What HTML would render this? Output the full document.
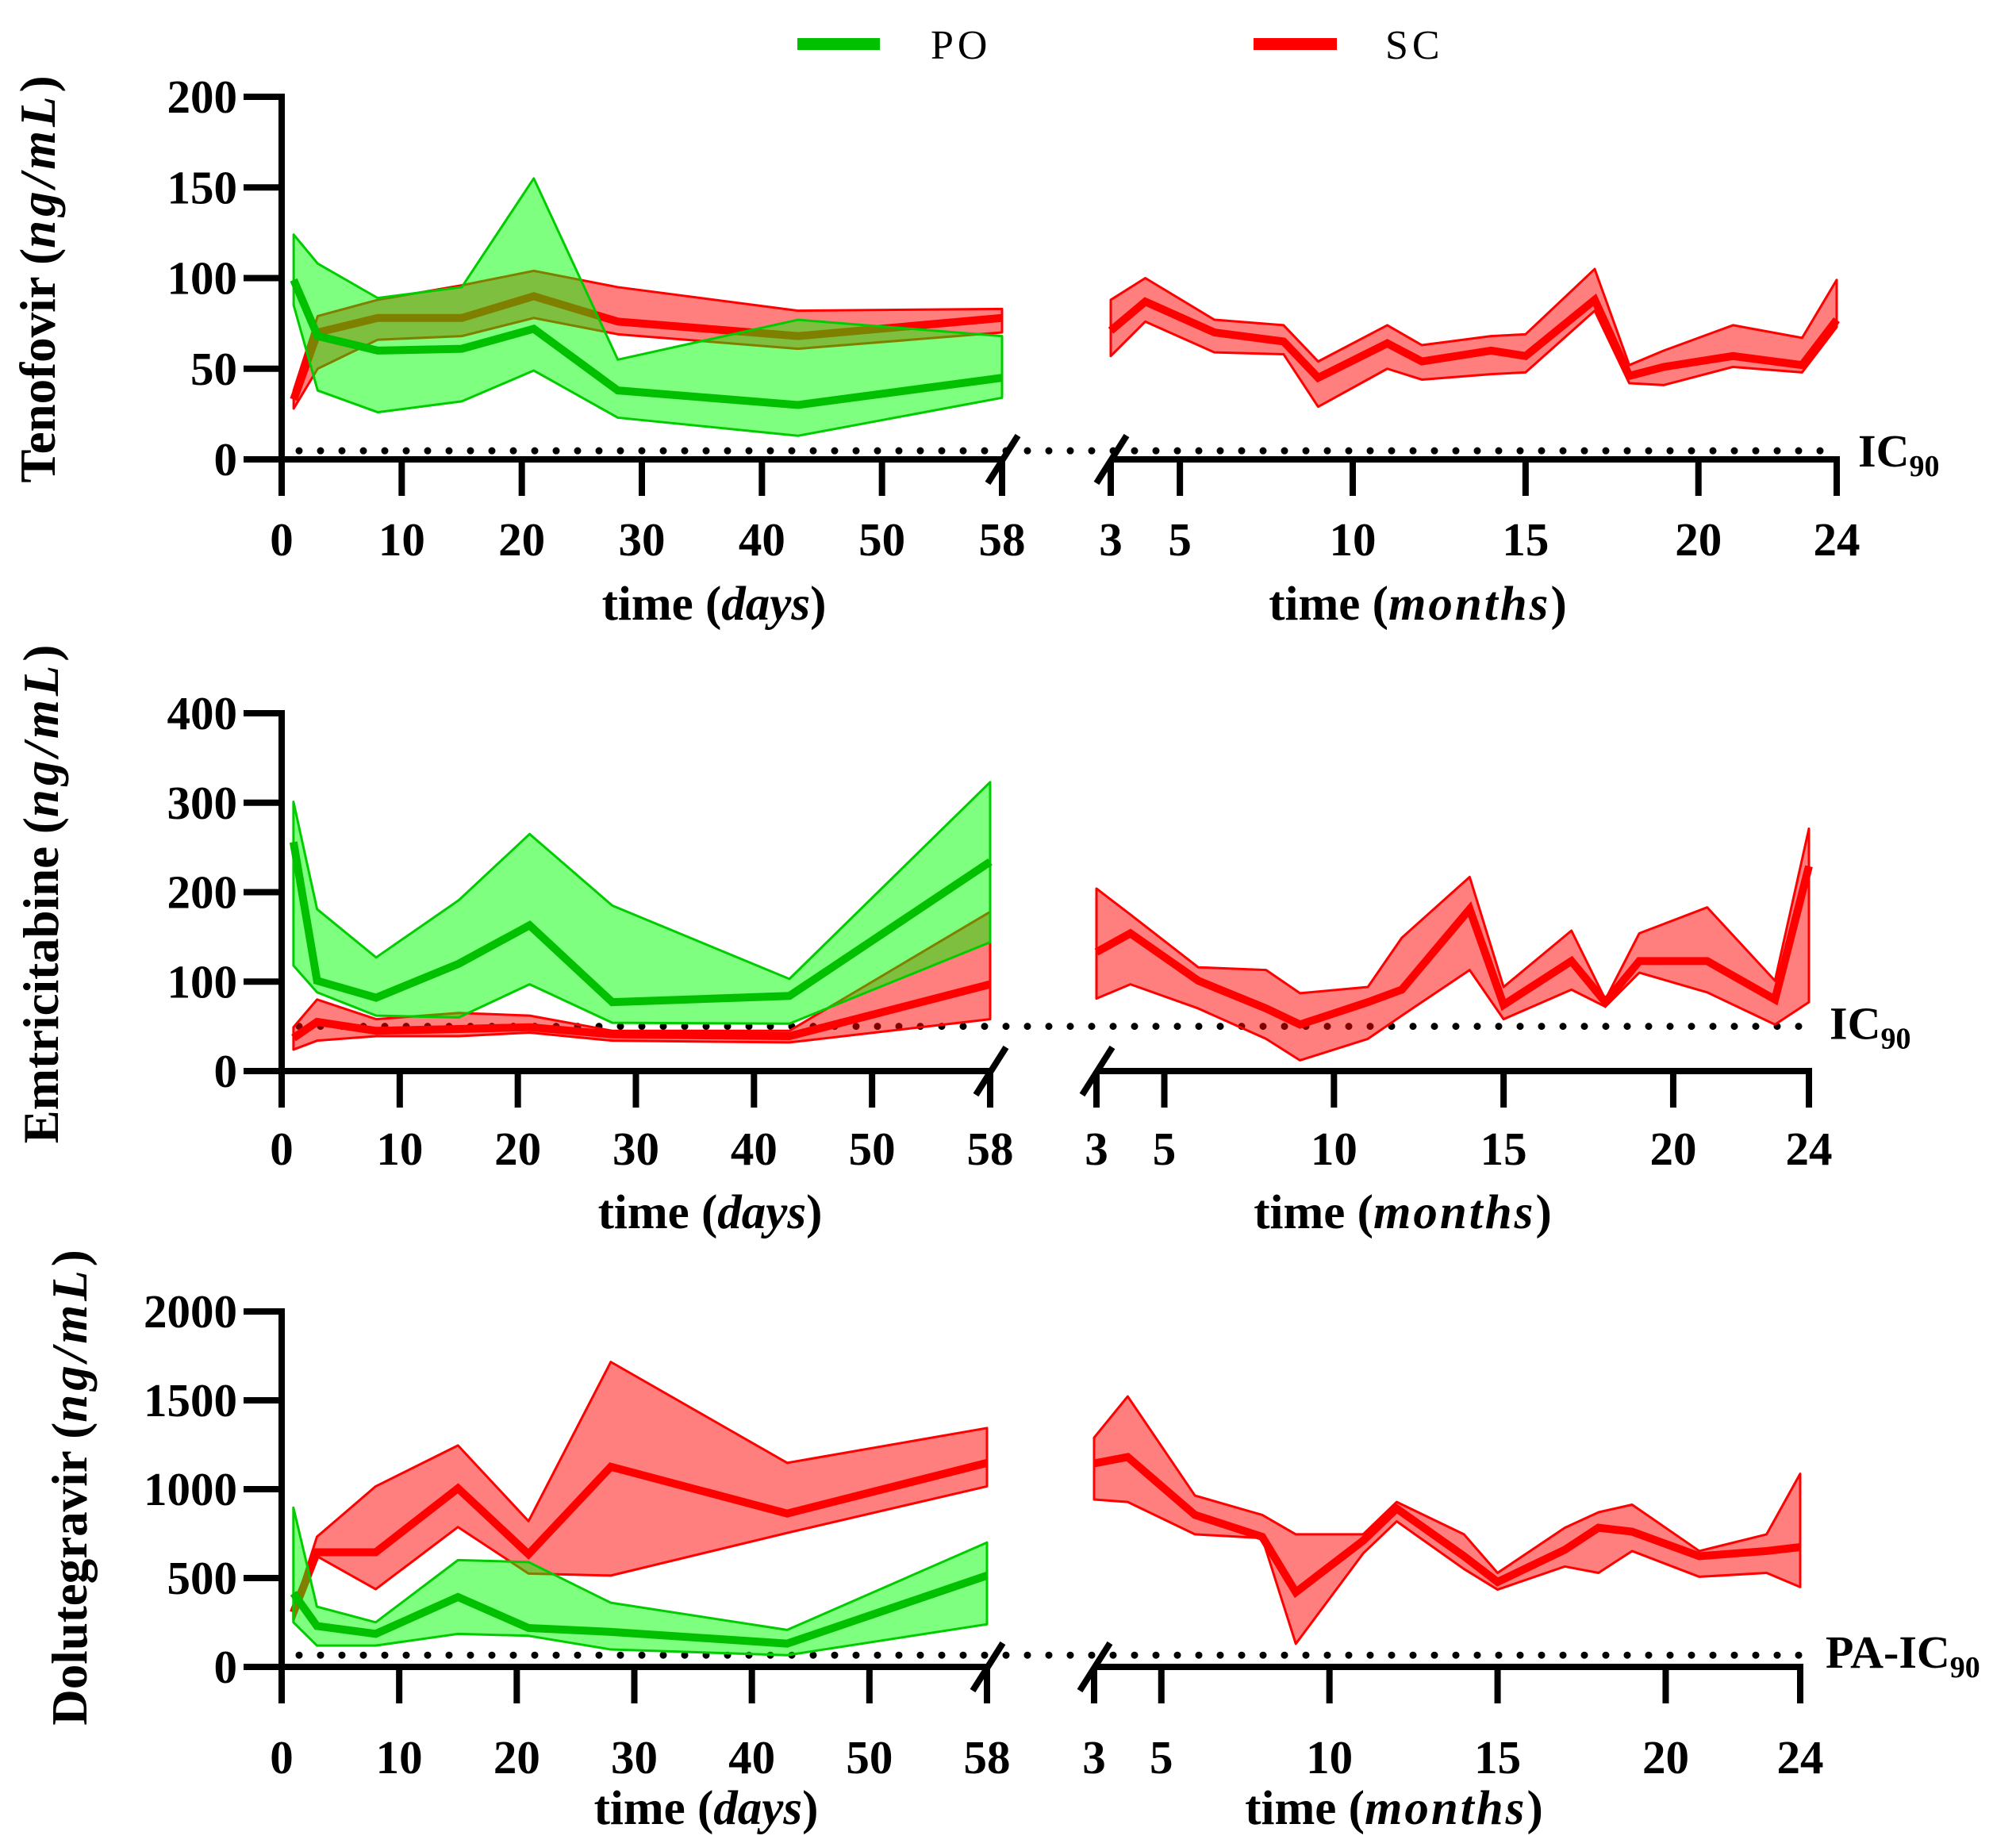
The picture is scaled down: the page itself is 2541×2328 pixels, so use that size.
<!DOCTYPE html>
<html><head><meta charset="utf-8"><style>
html,body{margin:0;padding:0;background:#fff}
svg{display:block}
text{font-family:"Liberation Serif",serif;fill:#000}
.tk{font-size:59px;font-weight:bold}
.ax{font-size:61px;font-weight:bold}
.yt{font-size:63px;font-weight:bold}
</style></head><body>
<svg id="chart" width="2541" height="2328" viewBox="0 0 2541 2328" xmlns="http://www.w3.org/2000/svg">
<g>
<rect x="1005" y="48" width="104" height="15" fill="#00c000"/>
<text x="1173" y="74" font-size="52" letter-spacing="5">PO</text>
<rect x="1580" y="48" width="105" height="15" fill="#ff0000"/>
<text x="1746" y="74" font-size="52" letter-spacing="5">SC</text>
</g>
</svg>
<script>
// ---------- data ----------
const dayTimes = [1,3,8,15,21,28,43,58];
const dayTicks = [0,10,20,30,40,50,58];
const monthTimes = [3,4,6,8,9,11,12,14,15,17,18,19,21,23,24];
const monthTicks = [3,5,10,15,20,24];

const tenoYTicks = [0,50,100,150,200];
const tenoPoMean = [99,68,60,61,72,38,30,45];
const tenoPoHi   = [124,108,89,95,155,55,77,68];
const tenoPoLo   = [85,38,26,32,49,23,13,34];
const tenoScMean = [33,70,78,78,90,76,68,78];
const tenoScHi   = [38,79,88,96,104,95,82,83];
const tenoScLo   = [28,50,66,68,78,69,61,70];
const tenoMMean  = [71,87,70,65,45,64,54,60,57,88,46,51,57,52,77];
const tenoMHi    = [88,100,77,74,54,74,63,68,69,105,52,60,74,67,99];
const tenoMLo    = [57,76,59,58,29,50,44,47,48,82,42,41,51,48,73];
const tenoIC = 3;

const emtrYTicks = [0,100,200,300,400];
const emtrPoMean = [256,101,82,120,163,77,84,234];
const emtrPoHi   = [301,181,127,191,265,185,103,323];
const emtrPoLo   = [118,88,62,60,97,54,53,144];
const emtrScMean = [37,55,45,47,49,41,39,97];
const emtrScHi   = [49,80,58,65,62,45,45,178];
const emtrScLo   = [24,34,39,39,43,34,32,58];
const emtrMMean  = [133,154,101,70,52,77,91,181,74,123,77,123,123,80,229];
const emtrMHi    = [204,175,116,113,87,94,149,217,94,157,80,154,183,101,271];
const emtrMLo    = [81,97,70,36,12,36,62,113,58,91,72,110,88,52,77];
const emtrIC = 50;

const doluYTicks = [0,500,1000,1500,2000];
const doluPoMean = [415,230,186,393,219,197,131,514];
const doluPoHi   = [896,339,251,601,590,361,208,700];
const doluPoLo   = [251,120,120,186,175,98,66,240];
const doluScMean = [306,645,645,1005,634,1126,863,1148];
const doluScHi   = [317,732,1016,1246,820,1716,1148,1344];
const doluScLo   = [262,623,437,787,525,514,754,1016];
const doluMMean  = [1145,1181,855,732,420,710,891,623,478,659,783,761,623,652,674];
const doluMHi    = [1290,1522,964,855,746,746,928,746,529,783,870,913,652,746,1087];
const doluMLo    = [942,928,746,725,130,638,819,551,435,565,529,652,507,529,449];
const doluIC = 66;

// ---------- layout ----------
const NS = "http://www.w3.org/2000/svg";
const svg = document.getElementById('chart');
function mk(tag, attrs, parent){ const e=document.createElementNS(NS,tag); for(const k in attrs) e.setAttribute(k,attrs[k]); (parent||svg).appendChild(e); return e; }

const panels = [
 {key:'tenofovir', title:'Tenofovir', yMax:200, yTicks:tenoYTicks, x0:355, x1:1263, m0:1400, m1:2315, y0:579, yTop:122,
  po:[tenoPoMean,tenoPoHi,tenoPoLo], sc:[tenoScMean,tenoScHi,tenoScLo], m:[tenoMMean,tenoMHi,tenoMLo], ic:tenoIC, icLabel:'IC', icX:2342,
  tickBase:700, tLabBase:781, daysCx:900, monthsCx:1787, titleX:49, titleY:352},
 {key:'emtricitabine', title:'Emtricitabine', yMax:400, yTicks:emtrYTicks, x0:355, x1:1248, m0:1382, m1:2280, y0:1350, yTop:899,
  po:[emtrPoMean,emtrPoHi,emtrPoLo], sc:[emtrScMean,emtrScHi,emtrScLo], m:[emtrMMean,emtrMHi,emtrMLo], ic:emtrIC, icLabel:'IC', icX:2306,
  tickBase:1468, tLabBase:1548, daysCx:895, monthsCx:1768, titleX:53, titleY:1127},
 {key:'dolutegravir', title:'Dolutegravir', yMax:2000, yTicks:doluYTicks, x0:355, x1:1244, m0:1379, m1:2269, y0:2101, yTop:1653,
  po:[doluPoMean,doluPoHi,doluPoLo], sc:[doluScMean,doluScHi,doluScLo], m:[doluMMean,doluMHi,doluMLo], ic:doluIC, icLabel:'PA-IC', icX:2301,
  tickBase:2235, tLabBase:2299, daysCx:890, monthsCx:1757, titleX:89, titleY:1875}
];

panels.forEach(p=>{
  const g = mk('g',{});
  
  
  const ys = v => p.y0 - v/p.yMax*(p.y0-p.yTop);
  const xd = d => { const u=(p.x1-p.x0)/60; return p.x0 + (d<=50 ? d : 50+(d-50)*10/8)*u; };
  const xm = m => p.m0 + (m-3)/21*(p.m1-p.m0);

  const icy = ys(p.ic)-(p.ic<10?4:0);
  const icl = mk('line',{x1:p.x0+22,x2:p.m1+2,y1:icy,y2:icy,stroke:'#000','stroke-width':9,'stroke-dasharray':'0 27','stroke-linecap':'round'},g);
  
  
  const ict = mk('text',{x:p.icX,y:ys(p.ic)+16,'font-size':58,'font-weight':'bold'},g);
  
  
  ict.textContent = p.icLabel;
  const sub = mk('tspan',{'font-size':38,dy:12},ict); sub.textContent='90';

  function band(xs, xf, hi, lo, fill, edge, name){
    let pts = xs.map((t,i)=>xf(t)+','+ys(hi[i]));
    pts = pts.concat(xs.map((t,i)=>xf(t)+','+ys(lo[i])).reverse());
    const b = mk('polygon',{points:pts.join(' '),fill:fill,stroke:edge,'stroke-width':3,'stroke-linejoin':'round'},g);
    
    
  }
  function line(xs, xf, vals, col, name){
    const l = mk('polyline',{points:xs.map((t,i)=>xf(t)+','+ys(vals[i])).join(' '),fill:'none',stroke:col,'stroke-width':10,'stroke-linejoin':'miter'},g);
    
    
  }
  band(dayTimes, xd, p.sc[1], p.sc[2], 'rgba(255,0,0,0.5)', '#ff0000', 'sc');
  line(dayTimes, xd, p.sc[0], '#ff0000', 'sc');
  band(dayTimes, xd, p.po[1], p.po[2], 'rgba(0,255,0,0.5)', '#00cc00', 'po');
  line(dayTimes, xd, p.po[0], '#00c000', 'po');
  band(monthTimes, xm, p.m[1], p.m[2], 'rgba(255,0,0,0.5)', '#ff0000', 'sc-months');
  line(monthTimes, xm, p.m[0], '#ff0000', 'sc-months');

  const ax = mk('g',{stroke:'#000','stroke-width':8,fill:'none'},g);
  
  
  mk('line',{x1:p.x0,x2:p.x0,y1:p.yTop-4,y2:p.y0+4},ax);
  mk('line',{x1:p.x0-4,x2:p.x1,y1:p.y0,y2:p.y0},ax);
  mk('line',{x1:p.m0,x2:p.m1+4,y1:p.y0,y2:p.y0},ax);
  mk('line',{x1:p.x1-18,x2:p.x1+20,y1:p.y0+30,y2:p.y0-30},ax);
  mk('line',{x1:p.m0-18,x2:p.m0+20,y1:p.y0+30,y2:p.y0-30},ax);
  p.yTicks.forEach(v=>{
    mk('line',{x1:p.x0-48,x2:p.x0,y1:ys(v),y2:ys(v)},ax);
    const t = mk('text',{x:p.x0-56,y:ys(v)+20,'text-anchor':'end',class:'tk'},g);
    
    
    t.textContent = v;
  });
  dayTicks.forEach(d=>{
    mk('line',{x1:xd(d),x2:xd(d),y1:p.y0,y2:p.y0+46},ax);
    const t = mk('text',{x:xd(d),y:p.tickBase,'text-anchor':'middle',class:'tk'},g);
    
    
    t.textContent = d;
  });
  monthTicks.forEach(m=>{
    mk('line',{x1:xm(m),x2:xm(m),y1:p.y0,y2:p.y0+46},ax);
    const t = mk('text',{x:xm(m),y:p.tickBase,'text-anchor':'middle',class:'tk'},g);
    
    
    t.textContent = m;
  });
  const td = mk('text',{x:p.daysCx,y:p.tLabBase,'text-anchor':'middle',class:'ax'},g);
  
  
  td.innerHTML = 'time (<tspan font-style="italic">days</tspan>)';
  const tm = mk('text',{x:p.monthsCx,y:p.tLabBase,'text-anchor':'middle',class:'ax'},g);
  
  
  tm.innerHTML = 'time (<tspan font-style="italic" letter-spacing="3">months</tspan>)';
  const yt = mk('text',{x:0,y:0,'text-anchor':'middle',class:'yt',transform:`translate(${p.titleX+20},${p.titleY}) rotate(-90)`},g);
  
  
  yt.innerHTML = p.title+' (<tspan font-style="italic" letter-spacing="5">ng/mL</tspan>)';
});
</script>
</body></html>
